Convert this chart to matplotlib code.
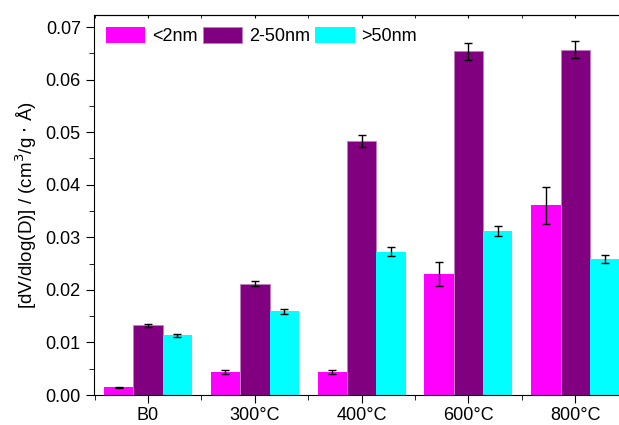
import numpy as np
import matplotlib.pyplot as plt
from matplotlib.ticker import MultipleLocator

plt.rcParams['font.family'] = ['Liberation Sans', 'DejaVu Sans']
plt.rcParams['font.size'] = 13

# pore volume by pore size class
cats = ['B0', '300°C', '400°C', '600°C', '800°C']
micro = [0.0015, 0.0044, 0.0044, 0.0230, 0.0361]
micro_err = [0.0001, 0.0004, 0.0004, 0.0023, 0.0035]
meso = [0.0133, 0.0212, 0.0483, 0.0654, 0.0657]
meso_err = [0.0003, 0.0004, 0.0011, 0.0016, 0.0016]
macro = [0.0114, 0.0159, 0.0273, 0.0312, 0.0259]
macro_err = [0.0003, 0.0004, 0.0008, 0.0009, 0.0007]

x = np.arange(len(cats))
w = 0.275

fig = plt.figure(figsize=(6.19, 4.25), dpi=100)
ax = fig.add_axes([94/619, 1-395/425, 1-94/619, 380/425])

ekw = dict(ecolor='black', capsize=3, elinewidth=1, capthick=1)
ax.bar(x - w, micro, w, yerr=micro_err, color='#FF00FF', label='<2nm', error_kw=ekw)
ax.bar(x, meso, w, yerr=meso_err, color='#800080', edgecolor='#C080C0', linewidth=0.6,
       label='2-50nm', error_kw=ekw)
ax.bar(x + w, macro, w, yerr=macro_err, color='#00FFFF', label='>50nm', error_kw=ekw)

ax.set_xlim(-0.506, 4.41)
ax.set_ylim(0, 0.0723)
ax.set_xticks(x)
ax.set_xticklabels(cats)
ax.xaxis.set_minor_locator(MultipleLocator(0.5))
ax.yaxis.set_major_locator(MultipleLocator(0.01))
ax.yaxis.set_minor_locator(MultipleLocator(0.005))
ax.yaxis.set_major_formatter(plt.FormatStrFormatter('%.2f'))

ax.spines['right'].set_visible(False)
ax.tick_params(axis='both', which='major', direction='out', length=6, labelsize=13)
ax.tick_params(axis='both', which='minor', direction='out', length=3.5)
ax.tick_params(axis='x', which='major', pad=3)

# small inward ticks on the top frame
top = ax.secondary_xaxis('top')
top.set_xticks(x)
top.xaxis.set_minor_locator(MultipleLocator(0.5))
top.tick_params(which='both', direction='in', length=2, labeltop=False)

ax.set_ylabel('[dV/dlog(D)] / (cm$^3$/g $\\cdot$ Å)', fontsize=13.5, labelpad=5)

ax.legend(loc='upper left', ncol=3, frameon=False, handlelength=2.2, handleheight=1.05,
          columnspacing=0.3, handletextpad=0.35, borderaxespad=0.25, fontsize=13)

fig.savefig('out.png', dpi=100)
